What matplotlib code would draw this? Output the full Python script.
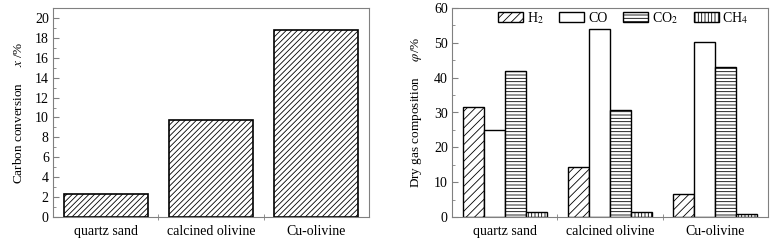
import numpy as np
import matplotlib.pyplot as plt
from matplotlib.ticker import MultipleLocator, FixedLocator

plt.rcParams['font.family'] = ['Liberation Serif', 'DejaVu Serif']
plt.rcParams['mathtext.fontset'] = 'stix'
plt.rcParams['hatch.color'] = '#555555'
plt.rcParams['hatch.linewidth'] = 0.6

materials = ['quartz sand', 'calcined olivine', 'Cu-olivine']
conversion = [2.35, 9.75, 18.8]

gases = ['H$_2$', 'CO', 'CO$_2$', 'CH$_4$']
h2 = [31.7, 14.4, 6.5]
co = [25.1, 53.9, 50.1]
co2 = [42.0, 30.6, 43.0]
ch4 = [1.5, 1.5, 0.9]
hatches = ['////', '', '-----', '|||||']

spine_c = '#808080'

fig = plt.figure(figsize=(7.74, 2.49), dpi=100)
ax1 = fig.add_axes([53/774, 32/249, 316/774, 209/249])
ax2 = fig.add_axes([452/774, 32/249, 316/774, 209/249])

x = np.arange(len(materials))

# left: carbon conversion
ax1.bar(x, conversion, width=0.8, color='white', edgecolor='black',
        linewidth=1.2, hatch='//////')
ax1.set_xlim(-0.5, 2.5)
ax1.set_ylim(0, 21)
ax1.yaxis.set_major_locator(MultipleLocator(2))
ax1.yaxis.set_minor_locator(MultipleLocator(1))
ax1.set_ylabel('Carbon conversion     $x$ /%', fontsize=9.5, labelpad=7)

# right: dry gas composition
w = 0.2
series = [h2, co, co2, ch4]
for i, vals in enumerate(series):
    ax2.bar(x + (i - 1.5) * w, vals, width=w, color='white', edgecolor='black',
            linewidth=1.0, hatch=hatches[i], label=gases[i])
ax2.set_xlim(-0.5, 2.5)
ax2.set_ylim(0, 60)
ax2.yaxis.set_major_locator(MultipleLocator(10))
ax2.yaxis.set_minor_locator(MultipleLocator(5))
ax2.set_ylabel('Dry gas composition     $\\varphi$/%', fontsize=9.5, labelpad=7)
ax2.legend(loc='upper left', bbox_to_anchor=(0.146, 0.99), ncol=4, frameon=False,
           fontsize=10, handlelength=1.8, handleheight=0.75, columnspacing=1.15,
           handletextpad=0.25, borderpad=0, borderaxespad=0)

for ax in (ax1, ax2):
    ax.set_xticks(x)
    ax.set_xticklabels(materials, fontsize=10)
    ax.xaxis.set_minor_locator(FixedLocator([0.5, 1.5]))
    ax.tick_params(axis='x', which='major', length=0, pad=6)
    ax.tick_params(axis='x', which='minor', direction='inout', length=4, color=spine_c)
    ax.tick_params(axis='y', which='major', direction='in', length=4, color=spine_c,
                   labelsize=10, pad=3)
    ax.tick_params(axis='y', which='minor', direction='in', length=2, color=spine_c)
    for s in ax.spines.values():
        s.set_color(spine_c)
        s.set_linewidth(0.8)

fig.savefig('out.png', dpi=100)
